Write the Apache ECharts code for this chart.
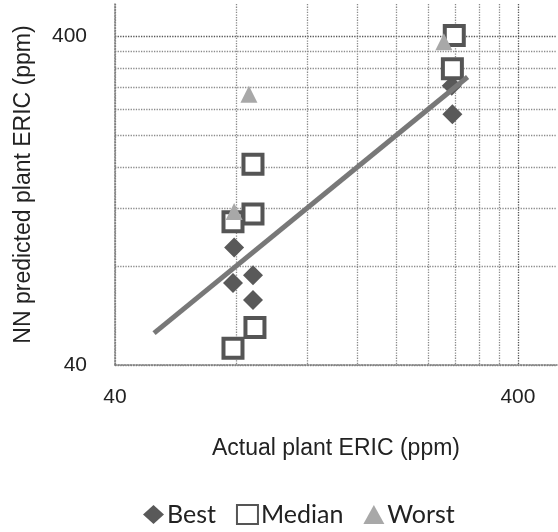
<!DOCTYPE html>
<html>
<head>
<meta charset="utf-8">
<script src="https://cdn.jsdelivr.net/npm/echarts@6/dist/echarts.min.js"></script>
<style>
html, body { margin: 0; padding: 0; background: #fff; }
#chart { width: 558px; height: 532px; }
</style>
</head>
<body>
<div id="chart"></div>
<script>
// 数据 (x = actual, y = NN predicted)
var bestData = [[79, 91], [88, 75], [78.5, 71], [88, 63], [274, 282], [275, 231]];
var medianData = [[88, 163], [88, 115], [78.5, 109], [89, 52], [78.5, 45], [278, 401], [275, 318]];
var worstData = [[86, 266], [79, 117], [262, 384]];
var fitLine = [[50, 50], [300, 300]];

// 刻度
var gridValues = [40, 80, 120, 160, 200, 240, 280, 320, 360, 400];
var labelValues = [40, 400];
var axisMin = 40, axisMax = 500;

var sans = '"Liberation Sans", Arial, sans-serif';

// 网格线颜色 (400 较深)
var gridColors = gridValues.map(function (v) { return v === 400 ? '#555' : '#8a8a8a'; });

function makeAxis(opt) {
    return echarts.util.merge({
        type: 'log',
        logBase: 10,
        min: axisMin,
        max: axisMax,
        nameLocation: 'middle',
        nameTextStyle: { fontFamily: sans, fontSize: 23, color: '#222' },
        axisLine: { show: true, lineStyle: { color: '#777', type: 'dotted', width: 1.5 } },
        axisTick: { show: false, customValues: gridValues },
        axisLabel: { customValues: labelValues, fontFamily: sans, fontSize: 21, color: '#222' },
        splitLine: { show: true, lineStyle: { color: gridColors, type: 'dotted', width: 1.3 } },
        minorTick: { show: false },
        minorSplitLine: { show: false }
    }, opt || {}, true);
}

var chart = echarts.init(document.getElementById('chart'));
var option = {
    animation: false,
    backgroundColor: '#fff',
    grid: { left: 115, right: 1, top: 4, bottom: 167, outerBoundsMode: 'none', containLabel: false },
    xAxis: makeAxis({
        name: 'Actual plant ERIC (ppm)',
        nameGap: 72,
        axisLabel: { margin: 22 }
    }),
    yAxis: makeAxis({
        name: 'NN predicted plant ERIC (ppm)',
        nameGap: 80,
        axisLabel: { margin: 28 }
    }),
    legend: {
        bottom: 0,
        left: 138,
        itemWidth: 21,
        itemHeight: 19,
        itemGap: 20,
        data: ['Best', 'Median', 'Worst'],
        textStyle: { fontFamily: 'Lato, "Noto Sans", sans-serif', fontSize: 25, color: '#222', padding: [0, 0, 0, -2] }
    },
    series: [
        {
            name: 'Best', type: 'scatter', symbol: 'diamond', symbolSize: 20,
            itemStyle: { color: '#595959', opacity: 1 },
            data: bestData
        },
        {
            name: 'Median', type: 'scatter', symbol: 'rect', symbolSize: 19,
            itemStyle: { color: '#fff', borderColor: '#555', borderWidth: 4, opacity: 1 },
            data: medianData
        },
        {
            name: 'Worst', type: 'scatter', symbol: 'triangle', symbolSize: 17,
            itemStyle: { color: '#a8a8a8', opacity: 1 },
            data: worstData
        },
        {
            name: 'fit', type: 'line', data: fitLine, symbol: 'none', silent: true,
            lineStyle: { color: '#787878', width: 5 }, z: 3
        }
    ]
};
chart.setOption(option);
</script>
</body>
</html>
